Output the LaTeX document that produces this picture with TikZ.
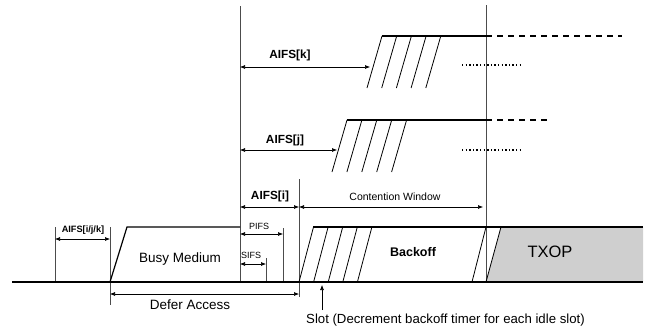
\documentclass[tikz,border=0pt]{standalone}
\usepackage{fontspec}
\setmainfont{Liberation Sans}
\usetikzlibrary{arrows.meta}

\begin{document}
\begin{tikzpicture}[x=1pt, y=-1pt,
    guide/.style={draw=black!70, line width=0.6pt},
    edge/.style={line width=1.2pt},
    span/.style={{Latex[length=5pt,width=4pt]}-{Latex[length=5pt,width=4pt]}, line width=0.6pt},
    dots/.style={line width=1.4pt, dash pattern=on 1.4pt off 2.2pt},
    lbl/.style={inner sep=0pt, font=\fontsize{11.8}{13}\selectfont\bfseries},
    small/.style={inner sep=0pt, font=\fontsize{9}{10}\selectfont}]
    \useasboundingbox (0,0) rectangle (662,327);

    % TXOP area
    \fill[gray!38] (486,282) -- (501,227) -- (643,227) -- (643,282) -- cycle;

    % Guide lines
    \draw[guide] (240,6) -- (240,282);
    \draw[guide] (486,5) -- (486,282);
    \draw[guide] (299,179) -- (299,297);
    \draw[guide] (110,227) -- (110,305);
    \draw[guide] (55,227) -- (55,282);
    \draw[guide] (283,228) -- (283,282);
    \draw[guide] (266,258) -- (266,282);

    % Busy medium
    \draw[edge] (110,282) -- (127,227) -- (240,227);
    \node (busy) at (180,259) {\fontsize{13.5}{15}\selectfont Busy Medium};

    % Backoff slots
    \foreach \i in {0,...,4}
        \draw[line width=0.8pt] ({299+14.6*\i},282) -- ({313.5+14.6*\i},227);
    \draw[edge] (313,227) -- (643,227);
    \draw[line width=0.8pt] (472,282) -- (486,227);
    \draw[line width=0.8pt] (486,282) -- (501,227);
    \node[font=\fontsize{12.5}{14}\selectfont\bfseries] (backoff) at (413,252) {Backoff};
    \node[font=\fontsize{16.5}{18}\selectfont] (txop) at (550,252) {TXOP};

    % Time line
    \draw[line width=1.6pt] (12,282) -- (643,282);

    % Short intervals
    \draw[span] (55,239) -- (110,239);
    \node[lbl, font=\fontsize{9.2}{10}\selectfont\bfseries] (aifsall) at (83,230) {AIFS[i/j/k]};
    \draw[span] (240,234) -- (283,234);
    \node[small] (pifs) at (259,226) {PIFS};
    \draw[span] (240,264) -- (266,264);
    \node[small] (sifs) at (251,255) {SIFS};
    \draw[span] (110,294) -- (299,294);
    \node (defer) at (190,305) {\fontsize{13.5}{15}\selectfont Defer Access};

    % Slot marker
    \draw[-{Latex[length=5pt,width=4pt]}, line width=0.6pt] (322,310) -- (322,285);
    \node[anchor=west, inner sep=0pt] (slot) at (306,320)
        {\fontsize{13.2}{14}\selectfont Slot (Decrement backoff timer for each idle slot)};

    % AIFS[i] and contention window
    \draw[span] (240,207) -- (299,207);
    \node[lbl] (aifsi) at (270,196) {AIFS[i]};
    \draw[span] (299,207) -- (483,207);
    \node[inner sep=0pt, font=\fontsize{10.5}{12}\selectfont] (cw) at (395,197) {Contention Window};

    % AIFS[j]
    \draw[span] (240,150) -- (337,150);
    \node[lbl] (aifsj) at (285,140) {AIFS[j]};
    \foreach \i in {0,...,4}
        \draw[line width=0.8pt] ({332+14.9*\i},172) -- ({347+14.9*\i},120);
    \draw[edge] (347,120) -- (486,120);
    \draw[edge, dash pattern=on 6pt off 5pt] (486,120) -- (550,120);
    \draw[dots] (462,150) -- (520,150);

    % AIFS[k]
    \draw[span] (240,67) -- (370,67);
    \node[lbl] (aifsk) at (290,55) {AIFS[k]};
    \foreach \i in {0,...,4}
        \draw[line width=0.8pt] ({367+14.7*\i},88) -- ({382+14.7*\i},36);
    \draw[edge] (382,36) -- (486,36);
    \draw[edge, dash pattern=on 6pt off 5pt] (486,36) -- (622,36);
    \draw[dots] (462,65) -- (520,65);
\end{tikzpicture}
\end{document}
